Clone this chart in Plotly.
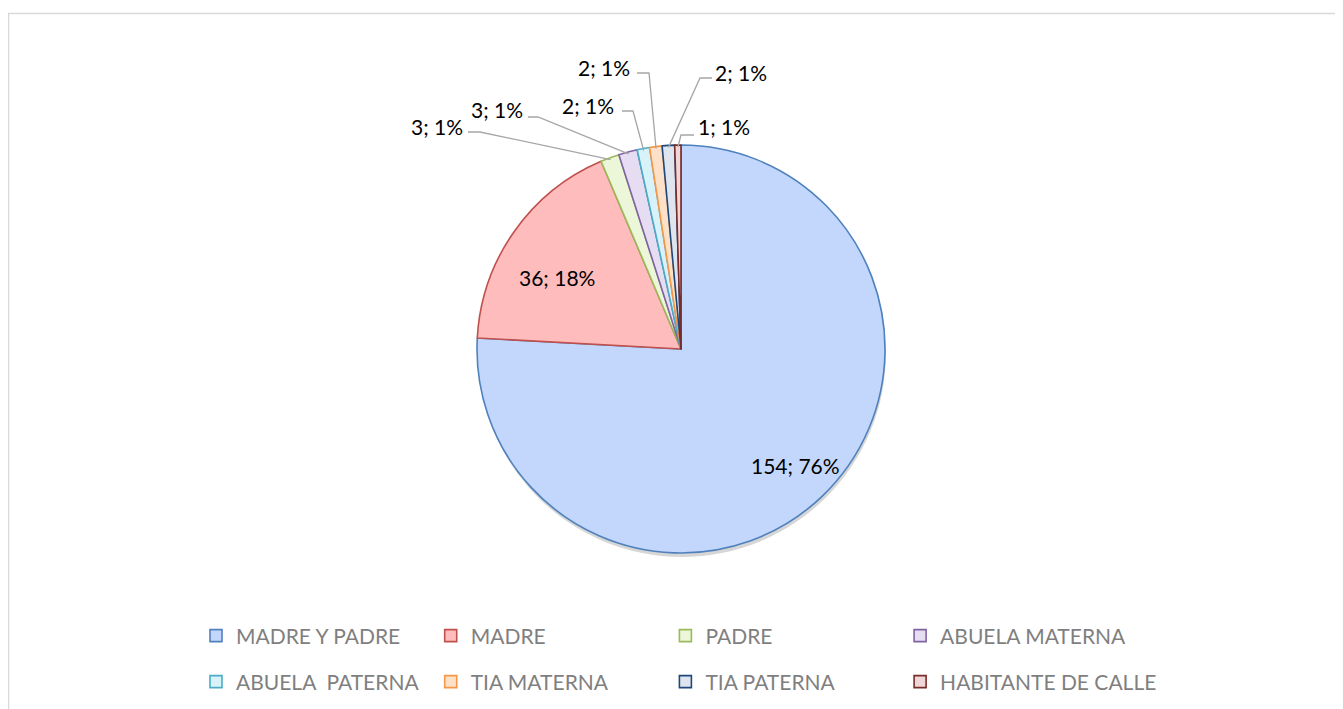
import math
import plotly.graph_objects as go

OFF = 8  # default page body margin
W, H = 1343 - OFF, 709 - OFF

labels = ["MADRE Y PADRE", "MADRE", "PADRE", "ABUELA MATERNA",
          "ABUELA\u00a0 PATERNA", "TIA MATERNA", "TIA PATERNA", "HABITANTE DE CALLE"]
values = [154, 36, 3, 3, 2, 2, 2, 1]
percent_labels = ["76%", "18%", "1%", "1%", "1%", "1%", "1%", "1%"]

fill_colors = ["#c2d7fb", "#ffbcbc", "#ecf6d8", "#e6ddf3", "#d8f2fa", "#fde0c8", "#dfe5ee", "#f0d6d6"]
line_colors = ["#4f81bd", "#c0504d", "#9bbb59", "#8064a2", "#4bacc6", "#f79646", "#1f497d", "#772c2a"]


def px(x, y):
    """screen pixel (reference coords) -> paper coords"""
    return (x - OFF) / W, 1 - (y - OFF) / H


# pie geometry (reference pixels)
cx, cy, R = 681, 349, 204
x0, y1 = px(cx - R, cy - R)
x1, y0 = px(cx + R, cy + R)

fig = go.Figure()
fig.add_trace(go.Pie(
    labels=labels, values=values, sort=False, direction="clockwise", rotation=0,
    marker=dict(colors=fill_colors, line=dict(color=line_colors, width=1.6)),
    textinfo="none", hoverinfo="label+value+percent", showlegend=False,
    domain=dict(x=[x0, x1], y=[y0, y1]),
))

total = sum(values)
cum = 0
mids = []
for v in values:
    mids.append((cum + v / 2) / total * 2 * math.pi)
    cum += v

# label layout: text centre (pixels) and optional leader-line elbow points
label_layout = {
    0: ((795, 465), None),
    1: ((557, 277), None),
    2: ((437, 126), [(468, 132), (480, 132)]),
    3: ((497, 109), [(528, 117), (538, 117)]),
    4: ((588, 105), [(622, 111), (633, 111)]),
    5: ((604, 67), [(637, 73), (649, 73)]),
    6: ((741, 72), [(712, 78), (700, 78)]),
    7: ((724, 127), [(694, 135), (681, 135)]),
}

FONT = "Lato, Calibri, Carlito, sans-serif"
font = dict(family=FONT, size=21, color="#000000")
for i, v in enumerate(values):
    text = f"{v}; {percent_labels[i]}"
    (tx, ty), elbow = label_layout[i]
    X, Y = px(tx, ty)
    fig.add_annotation(x=X, y=Y, xref="paper", yref="paper", text=text,
                       xanchor="center", yanchor="middle",
                       showarrow=False, font=font)
    if elbow:
        a = mids[i]
        ex = cx + (R - 2) * math.sin(a)
        ey = cy - (R - 2) * math.cos(a)
        pts = elbow + [(ex, ey)]
        path = "M " + " L ".join("{},{}".format(*px(p[0], p[1])) for p in pts)
        fig.add_shape(type="path", path=path, xref="paper", yref="paper",
                      line=dict(color="#a6a6a6", width=1.3))

# soft shadow under the pie
sx0, sy1 = px(cx - R + 1, cy - R + 4)
sx1, sy0 = px(cx + R + 1, cy + R + 4)
fig.add_shape(type="circle", xref="paper", yref="paper", x0=sx0, x1=sx1, y0=sy0, y1=sy1,
              fillcolor="rgba(0,0,0,0.16)", line=dict(width=0), layer="below")

# chart border
bx0, by1 = px(8.5, 13.5)
fig.add_shape(type="rect", xref="paper", yref="paper",
              x0=bx0, y0=-0.05, x1=1.05, y1=by1,
              line=dict(color="#d9d9d9", width=1.5), fillcolor="rgba(0,0,0,0)", layer="below")

# legend: one small legend per entry, laid out in 4 columns x 2 rows
legfont = dict(family=FONT, size=21, color="#7f7f7f")
legend_layout = {}
for i, lab in enumerate(labels):
    key = "legend" if i == 0 else f"legend{i + 1}"
    fig.add_trace(go.Scatter(
        x=[None], y=[None], mode="markers", name=lab,
        marker=dict(symbol="square", size=12, color=fill_colors[i],
                    line=dict(color=line_colors[i], width=1.6)),
        legend=key, hoverinfo="skip",
    ))
    col, row = i % 4, i // 4
    lx, ly = px(196 + 234.7 * col, 636 + 46 * row)
    legend_layout[key] = dict(x=lx, y=ly, xanchor="left", yanchor="middle",
                              orientation="h", itemwidth=30, font=legfont,
                              bgcolor="rgba(0,0,0,0)")

fig.update_layout(
    width=W, height=H,
    margin=dict(l=0, r=0, t=0, b=0),
    paper_bgcolor="white", plot_bgcolor="white",
    showlegend=True,
    xaxis=dict(visible=False), yaxis=dict(visible=False),
    **legend_layout,
)

fig.write_html("out.html")
